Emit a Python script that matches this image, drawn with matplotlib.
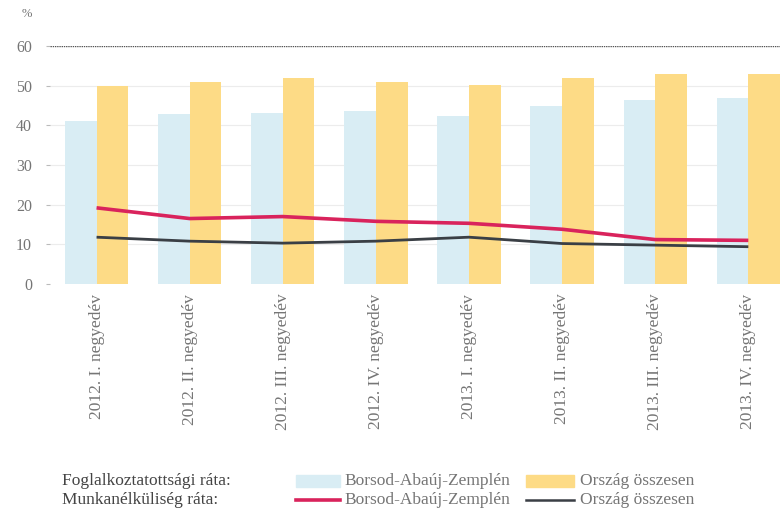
import matplotlib
matplotlib.use("Agg")
import matplotlib.pyplot as plt
import numpy as np
from matplotlib.patches import Rectangle
from matplotlib.lines import Line2D

quarters = ["2012. I. negyedév", "2012. II. negyedév", "2012. III. negyedév",
            "2012. IV. negyedév", "2013. I. negyedév", "2013. II. negyedév",
            "2013. III. negyedév", "2013. IV. negyedév"]
emp_baz = [41.0, 42.8, 43.0, 43.5, 42.3, 45.0, 46.3, 47.0]
emp_hu = [49.8, 51.0, 51.9, 51.0, 50.1, 51.9, 52.9, 52.9]
unemp_baz = [19.2, 16.5, 17.0, 15.8, 15.3, 13.8, 11.2, 11.0]
unemp_hu = [11.8, 10.8, 10.3, 10.8, 11.8, 10.2, 9.8, 9.4]
yticks = [0, 10, 20, 30, 40, 50, 60]

plt.rcParams['font.family'] = ['Liberation Serif', 'DejaVu Serif']
txt = '#757575'
c_blue = '#d9edf4'
c_yellow = '#fddb86'
c_red = '#d9235c'
c_black = '#3a3f45'

fig = plt.figure(figsize=(7.8, 5.15), dpi=100)
ax = fig.add_axes([50/780, (515-284)/515, 730/780, 238/515])

x = np.arange(len(quarters))
w = 0.34
ax.bar(x - w/2, emp_baz, width=w, color=c_blue, zorder=2)
ax.bar(x + w/2, emp_hu, width=w, color=c_yellow, zorder=2)
ax.plot(x, unemp_baz, color=c_red, lw=2.6, zorder=4, solid_capstyle='butt')
ax.plot(x, unemp_hu, color=c_black, lw=2.0, zorder=4, solid_capstyle='butt')

ax.set_xlim(-0.5, 7.34)
ax.set_ylim(0, 60)
for v in yticks[1:-1]:
    ax.axhline(v, color='#ececec', lw=0.8, zorder=1)
ax.axhline(60, color='#555555', lw=1.0, ls=(0, (1, 0.6)), zorder=3)

for s in ax.spines.values():
    s.set_visible(False)
ax.set_yticks(yticks)
ax.set_yticklabels([str(v) for v in yticks], color=txt, fontsize=11.5)
ax.tick_params(axis='y', length=3, color='#bbbbbb', pad=10)
ax.set_xticks(x)
ax.set_xticklabels(quarters, rotation=90, color=txt, fontsize=12.5, va='top')
ax.tick_params(axis='x', length=0, pad=7)
fig.text(22/780, 1 - 14/515, '%', color=txt, fontsize=9, ha='left', va='center')

# legend at the bottom
y1, y2 = 1 - 481/515, 1 - 500/515
fs = 12.5
fig.text(62/780, y1, 'Foglalkoztatottsági ráta:', color='#444444', fontsize=fs, va='center')
fig.text(62/780, y2, 'Munkanélküliség ráta:', color='#444444', fontsize=fs, va='center')
fig.patches.append(Rectangle((296/780, y1 - 6/515), 44/780, 12/515, color=c_blue,
                             transform=fig.transFigure, figure=fig))
fig.patches.append(Rectangle((526/780, y1 - 6/515), 48/780, 12/515, color=c_yellow,
                             transform=fig.transFigure, figure=fig))
fig.lines.append(Line2D([296/780, 340/780], [y2, y2], color=c_red, lw=2.6,
                        transform=fig.transFigure, figure=fig))
fig.lines.append(Line2D([526/780, 574/780], [y2, y2], color=c_black, lw=1.8,
                        transform=fig.transFigure, figure=fig))
fig.text(344/780, y1, 'Borsod-Abaúj-Zemplén', color=txt, fontsize=fs, va='center')
fig.text(580/780, y1, 'Ország összesen', color=txt, fontsize=fs, va='center')
fig.text(344/780, y2, 'Borsod-Abaúj-Zemplén', color=txt, fontsize=fs, va='center')
fig.text(580/780, y2, 'Ország összesen', color=txt, fontsize=fs, va='center')

fig.savefig('out.png', dpi=100)
